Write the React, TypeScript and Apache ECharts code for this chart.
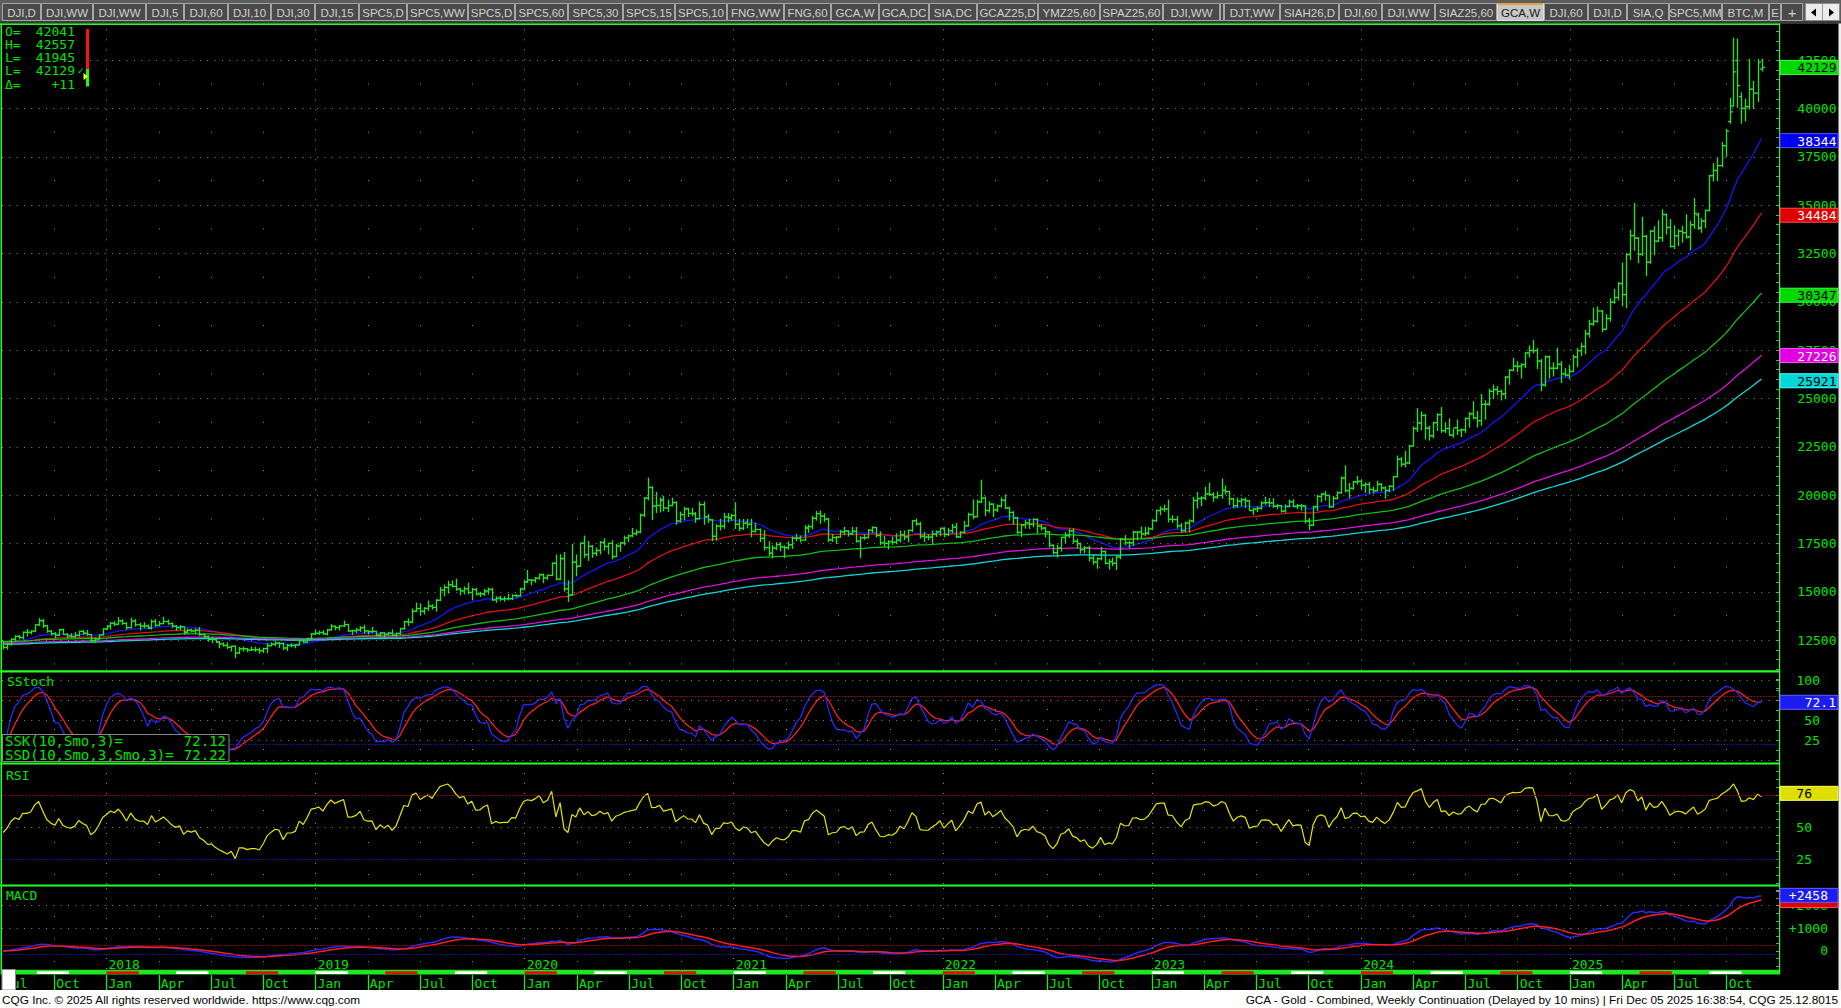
import { useEffect, useRef } from "react";
import * as echarts from "echarts";

// Weekly bars [open, high, low, close] in dollars; the chart shows prices x10.
const bars2017 = [[1242,1245,1205,1213],[1213,1235,1204,1228],[1228,1258,1226,1255],[1255,1274,1246,1270],[1270,1276,1257,1264],[1264,1293,1257,1291],[1291,1306,1272,1291],[1291,1300,1283,1297],[1297,1330,1294,1330],[1330,1362,1326,1351],[1351,1358,1316,1325],[1325,1327,1291,1297],[1297,1301,1277,1284],[1284,1290,1263,1276],[1276,1307,1274,1304],[1304,1308,1280,1280],[1280,1285,1265,1272],[1272,1284,1265,1269],[1269,1290,1266,1275],[1275,1297,1271,1296],[1296,1300,1279,1287],[1287,1301,1275,1280],[1280,1280,1241,1248],[1248,1261,1240,1257],[1257,1279,1255,1278],[1278,1310,1277,1309]];
const bars2018 = [[1309,1326,1305,1322],[1322,1341,1308,1338],[1338,1346,1326,1333],[1333,1367,1331,1350],[1350,1356,1332,1337],[1337,1341,1307,1316],[1316,1365,1313,1349],[1349,1357,1323,1330],[1330,1338,1303,1323],[1323,1341,1315,1324],[1324,1329,1310,1313],[1313,1355,1308,1347],[1347,1357,1321,1327],[1327,1347,1325,1336],[1336,1369,1335,1347],[1347,1355,1333,1336],[1336,1340,1315,1323],[1323,1326,1302,1315],[1315,1326,1305,1320],[1320,1320,1282,1292],[1292,1308,1287,1302],[1302,1307,1293,1298],[1298,1309,1290,1302],[1302,1316,1276,1279],[1279,1282,1262,1270],[1270,1272,1245,1254],[1254,1265,1238,1255],[1255,1262,1238,1241],[1241,1244,1211,1231],[1231,1236,1219,1223],[1223,1237,1207,1214],[1214,1220,1194,1219],[1219,1221,1160,1184],[1184,1213,1182,1206],[1206,1215,1194,1206],[1206,1207,1191,1199],[1199,1215,1197,1201],[1201,1214,1193,1201],[1201,1210,1183,1196],[1196,1209,1187,1207],[1207,1233,1185,1222],[1222,1236,1221,1229],[1229,1245,1222,1235],[1235,1239,1212,1233],[1233,1237,1202,1210],[1210,1228,1196,1223],[1223,1232,1216,1223],[1223,1228,1211,1226],[1226,1250,1226,1248],[1248,1252,1238,1241],[1241,1262,1239,1258],[1258,1285,1256,1283],[1283,1301,1280,1286]];
const bars2019 = [[1286,1298,1280,1290],[1290,1300,1281,1283],[1283,1306,1277,1304],[1304,1331,1302,1322],[1322,1324,1305,1316],[1316,1326,1302,1324],[1324,1349,1321,1331],[1331,1333,1295,1298],[1298,1302,1281,1299],[1299,1311,1290,1303],[1303,1321,1296,1315],[1315,1328,1286,1298],[1298,1300,1282,1295],[1295,1317,1290,1296],[1296,1297,1273,1277],[1277,1290,1268,1288],[1288,1289,1267,1281],[1281,1291,1277,1287],[1287,1304,1273,1276],[1276,1287,1268,1285],[1285,1312,1281,1310],[1310,1348,1306,1346],[1346,1361,1327,1344],[1344,1412,1341,1400],[1400,1442,1398,1414],[1414,1438,1383,1400],[1400,1419,1387,1415],[1415,1453,1404,1427],[1427,1434,1411,1420],[1420,1460,1400,1457],[1457,1523,1455,1509],[1509,1535,1480,1523],[1523,1555,1495,1537],[1537,1557,1526,1529],[1529,1566,1508,1515],[1515,1519,1485,1505],[1505,1526,1490,1516],[1516,1545,1490,1497],[1497,1519,1459,1512],[1512,1519,1484,1489],[1489,1498,1477,1490],[1490,1514,1482,1505],[1505,1520,1489,1513],[1513,1518,1456,1459],[1459,1475,1446,1468],[1468,1478,1455,1463],[1463,1475,1452,1465],[1465,1487,1459,1465],[1465,1485,1460,1481],[1481,1486,1474,1480],[1480,1519,1479,1515],[1515,1557,1510,1552]];
const bars2020 = [[1552,1611,1549,1562],[1562,1563,1537,1560],[1560,1575,1550,1571],[1571,1592,1565,1589],[1589,1592,1548,1573],[1573,1587,1565,1586],[1586,1650,1584,1648],[1648,1691,1563,1566],[1566,1692,1563,1672],[1672,1704,1504,1516],[1516,1558,1451,1484],[1484,1746,1482,1654],[1654,1691,1583,1633],[1633,1753,1633,1752],[1752,1789,1679,1693],[1693,1761,1663,1736],[1736,1740,1679,1700],[1700,1727,1688,1714],[1714,1761,1697,1756],[1756,1775,1717,1735],[1735,1752,1697,1751],[1751,1765,1671,1683],[1683,1746,1682,1737],[1737,1756,1711,1753],[1753,1789,1743,1780],[1780,1795,1761,1790],[1790,1829,1785,1802],[1802,1820,1794,1810],[1810,1903,1806,1897],[1897,1988,1891,1985],[1985,2089,1976,2040],[2040,2044,1874,1944],[1944,2015,1911,1947],[1947,1986,1914,1975],[1975,1994,1920,1934],[1934,1975,1916,1947],[1947,1985,1945,1962],[1962,1966,1851,1867],[1867,1913,1862,1900],[1900,1937,1873,1930],[1930,1933,1890,1906],[1906,1933,1894,1905],[1905,1911,1860,1879],[1879,1965,1876,1952],[1952,1965,1850,1889],[1889,1900,1859,1873],[1873,1875,1765,1788],[1788,1848,1767,1840],[1840,1876,1820,1840],[1840,1906,1829,1888],[1888,1906,1862,1883],[1883,1902,1870,1895]];
const bars2021 = [[1895,1962,1828,1850],[1850,1875,1817,1829],[1829,1875,1823,1856],[1856,1875,1831,1850],[1850,1876,1785,1814],[1814,1855,1809,1823],[1823,1826,1760,1777],[1777,1817,1717,1729],[1729,1760,1687,1700],[1700,1740,1677,1727],[1727,1755,1719,1745],[1745,1755,1713,1733],[1733,1738,1677,1729],[1729,1759,1721,1744],[1744,1785,1725,1777],[1777,1798,1764,1777],[1777,1790,1758,1768],[1768,1843,1767,1831],[1831,1846,1808,1838],[1838,1891,1827,1881],[1881,1916,1871,1905],[1905,1919,1855,1892],[1892,1904,1865,1877],[1877,1880,1761,1769],[1769,1796,1761,1781],[1781,1786,1750,1784],[1784,1818,1783,1811],[1811,1834,1795,1815],[1815,1818,1789,1801],[1801,1834,1795,1814],[1814,1833,1757,1763],[1763,1786,1677,1780],[1780,1795,1771,1781],[1781,1823,1779,1819],[1819,1837,1808,1833],[1833,1834,1784,1792],[1792,1811,1745,1754],[1754,1787,1737,1751],[1751,1765,1722,1760],[1760,1784,1746,1757],[1757,1801,1749,1768],[1768,1815,1758,1796],[1796,1815,1770,1784],[1784,1820,1759,1818],[1818,1869,1813,1868],[1868,1877,1845,1852],[1852,1860,1778,1788],[1788,1808,1761,1784],[1784,1797,1770,1784],[1784,1816,1753,1799],[1799,1815,1787,1811],[1811,1830,1790,1829]];
const bars2022 = [[1829,1832,1785,1797],[1797,1829,1791,1817],[1817,1849,1806,1835],[1835,1854,1781,1785],[1785,1812,1781,1808],[1808,1865,1805,1842],[1842,1907,1840,1900],[1900,1976,1878,1889],[1889,1975,1889,1966],[1966,2078,1962,1985],[1985,1991,1895,1921],[1921,1966,1912,1954],[1954,1956,1890,1924],[1924,1950,1915,1945],[1945,1985,1939,1974],[1974,2002,1931,1934],[1934,1938,1872,1911],[1911,1915,1850,1882],[1882,1886,1800,1808],[1808,1850,1786,1846],[1846,1870,1830,1857],[1857,1876,1828,1850],[1850,1878,1837,1875],[1875,1878,1805,1840],[1840,1848,1820,1830],[1830,1835,1784,1811],[1811,1812,1732,1741],[1741,1744,1696,1703],[1703,1742,1680,1727],[1727,1783,1711,1782],[1782,1807,1754,1791],[1791,1824,1782,1816],[1816,1826,1753,1762],[1762,1773,1727,1750],[1750,1753,1701,1719],[1719,1735,1702,1728],[1728,1736,1660,1675],[1675,1689,1643,1655],[1655,1677,1622,1672],[1672,1730,1666,1709],[1709,1712,1645,1648],[1648,1668,1618,1657],[1657,1675,1636,1648],[1648,1685,1616,1681],[1681,1777,1672,1771],[1771,1792,1745,1754],[1754,1763,1728,1754],[1754,1815,1740,1809],[1809,1811,1769,1810],[1810,1836,1776,1800],[1800,1833,1790,1804],[1804,1834,1797,1826]];
const bars2023 = [[1826,1874,1824,1869],[1869,1923,1864,1921],[1921,1940,1900,1928],[1928,1949,1917,1929],[1929,1975,1862,1876],[1876,1894,1860,1874],[1874,1890,1830,1842],[1842,1854,1810,1817],[1817,1862,1810,1856],[1856,1873,1810,1867],[1867,1989,1860,1973],[1973,2014,1934,1983],[1983,1992,1946,1986],[1986,2041,1978,2007],[2007,2063,1999,2004],[2004,2013,1969,1990],[1990,2017,1984,1999],[1999,2085,1985,2025],[2025,2048,2007,2019],[2019,2021,1952,1981],[1981,1985,1936,1946],[1946,1985,1938,1969],[1969,1984,1945,1977],[1977,1986,1936,1971],[1971,1973,1920,1921],[1921,1933,1900,1929],[1929,1941,1915,1932],[1932,1966,1928,1961],[1961,1990,1953,1962],[1962,1983,1942,1960],[1960,1982,1937,1943],[1943,1952,1930,1946],[1946,1948,1913,1918],[1918,1950,1912,1942],[1942,1975,1940,1966],[1966,1977,1940,1942],[1942,1953,1930,1946],[1946,1953,1923,1945],[1945,1947,1857,1866],[1866,1878,1823,1845],[1845,1944,1843,1941],[1941,2000,1921,1994],[1994,2009,1967,2006],[2006,2019,1976,1999],[1999,2000,1935,1940],[1940,1994,1939,1984],[1984,2018,1980,2013],[2013,2095,2010,2089],[2089,2152,2017,2024],[2024,2061,1987,2036],[2036,2072,2030,2069],[2069,2098,2058,2072]];
const bars2024 = [[2072,2080,2031,2052],[2052,2064,2015,2056],[2056,2067,2010,2030],[2030,2043,2012,2023],[2023,2073,2023,2057],[2057,2060,2022,2038],[2038,2043,1984,2025],[2025,2050,2018,2046],[2046,2096,2025,2096],[2096,2203,2096,2186],[2186,2196,2149,2161],[2161,2226,2146,2167],[2167,2258,2163,2255],[2255,2354,2254,2345],[2345,2448,2330,2374],[2374,2431,2338,2413],[2413,2418,2291,2347],[2347,2357,2285,2308],[2308,2378,2298,2375],[2375,2422,2335,2417],[2417,2454,2325,2334],[2334,2375,2325,2345],[2345,2395,2310,2311],[2311,2343,2300,2349],[2349,2389,2314,2335],[2335,2343,2304,2339],[2339,2400,2325,2397],[2397,2427,2353,2421],[2421,2484,2395,2400],[2400,2433,2353,2386],[2386,2522,2362,2470],[2470,2488,2394,2471],[2471,2549,2465,2538],[2538,2570,2500,2547],[2547,2562,2520,2537],[2537,2544,2493,2524],[2524,2614,2500,2611],[2611,2650,2574,2646],[2646,2708,2645,2668],[2668,2690,2640,2666],[2666,2680,2606,2676],[2676,2737,2660,2736],[2736,2772,2715,2749],[2749,2801,2736,2748],[2748,2760,2655,2694],[2694,2702,2541,2570],[2570,2721,2565,2716],[2716,2720,2605,2657],[2657,2685,2617,2657],[2657,2761,2654,2677],[2677,2691,2583,2628],[2628,2655,2616,2621],[2621,2672,2602,2640]];
const bars2025 = [[2640,2725,2640,2715],[2715,2760,2665,2748],[2748,2786,2722,2770],[2770,2853,2731,2835],[2835,2905,2818,2886],[2886,2968,2878,2900],[2900,2974,2895,2953],[2953,2956,2845,2858],[2858,2934,2857,2914],[2914,3017,2900,2999],[2999,3065,2993,3023],[3023,3100,3010,3095],[3095,3201,2980,3038],[3038,3250,2970,3245],[3245,3371,3220,3343],[3343,3509,3267,3330],[3330,3333,3203,3247],[3247,3438,3240,3339],[3339,3344,3136,3205],[3205,3369,3200,3366],[3366,3389,3245,3314],[3314,3420,3312,3332],[3332,3476,3313,3452],[3452,3455,3351,3385],[3385,3426,3284,3287],[3287,3394,3276,3342],[3342,3374,3292,3365],[3365,3391,3309,3358],[3358,3451,3329,3336],[3336,3416,3269,3399],[3399,3534,3380,3458],[3450,3460,3375,3382],[3382,3430,3360,3418],[3418,3475,3385,3473],[3473,3655,3470,3653],[3653,3715,3625,3680],[3680,3745,3628,3705],[3705,3824,3700,3808],[3808,3893,3753,3883],[3933,4053,3924,3983],[4013,4364,4013,4190],[4248,4359,4007,4119],[4062,4081,3924,4001],[4001,4048,3936,4010],[4010,4255,3997,4100],[4100,4140,4001,4080],[4080,4255,4037,4240],[4204.1,4255.7,4194.5,4212.9]];

const priceScale = 10;
const firstWeekUTC = Date.UTC(2017, 6, 3);
const axisStartMonth = 6;   // Jul 2017, months counted from Jan 2017
const axisEndMonth = 108;   // Jan 2026

const maPeriods = [21, 50, 100, 165, 200];
const maSeeds = [12450, 12400, 12450, 12350, 12300];
const maColors = ["#1414ff", "#e01010", "#10c010", "#e010e0", "#10d8d8"];
const stochLength = 10;
const stochSmooth = 3;
const rsiLength = 14;
const rsiSeedGain = 80;
const rsiSeedLoss = 95;

const priceTickLabels = [12500, 15000, 17500, 20000, 22500, 25000, 27500, 30000, 32500, 35000, 37500, 40000, 42500];
const priceBoxes = [
  { v: 42129, t: "42129", bg: "#00d800", fg: "#000000", bd: "#40ff40" },
  { v: 38344, t: "38344", bg: "#0000f0", fg: "#ffffff", bd: "#5050ff" },
  { v: 34484, t: "34484", bg: "#e00000", fg: "#ffffff", bd: "#ff5050" },
  { v: 30347, t: "30347", bg: "#00d800", fg: "#000000", bd: "#40ff40" },
  { v: 27226, t: "27226", bg: "#e000e0", fg: "#ffffff", bd: "#ff50ff" },
  { v: 25921, t: "25921", bg: "#00d8d8", fg: "#000000", bd: "#50ffff" },
];
const quoteRows = [["O=", "42041"], ["H=", "42557"], ["L=", "41945"], ["L=", "42129"], ["\u0394=", "+11"]];
const legendRows = [["SSK(10,Smo,3)=", "72.12"], ["SSD(10,Smo,3,Smo,3)=", "72.22"]];
const tabLabels = ["DJI,D","DJI,WW","DJI,WW","DJI,5","DJI,60","DJI,10","DJI,30","DJI,15","SPC5,D","SPC5,WW","SPC5,D","SPC5,60","SPC5,30","SPC5,15","SPC5,10","FNG,WW","FNG,60","GCA,W","GCA,DC","SIA,DC","GCAZ25,D","YMZ25,60","SPAZ25,60","DJI,WW","","DJT,WW","SIAH26,D","DJI,60","DJI,WW","SIAZ25,60","GCA,W","DJI,60","DJI,D","SIA,Q","SPC5,MM","BTC,M","E","+"];
const tabEdges = [2,41,93,146,184,228,271,315,359,407,468,515,568,623,675,727,784,831,879,929,977,1038,1100,1163,1220,1224,1280,1339,1382,1435,1497,1544,1588,1627,1669,1722,1769,1781,1803];
const activeTab = 30;
const footerLeft = "CQG Inc. \u00a9 2025 All rights reserved worldwide. https://www.cqg.com";
const footerRight = "GCA - Gold - Combined, Weekly Continuation (Delayed by 10 mins) | Fri Dec 05 2025 16:38:54, CQG 25.12.8015";

const MONO = '"DejaVu Sans Mono", "Liberation Mono", monospace';
const UI = '"Liberation Sans", Arial, sans-serif';
const TXT = "#00e400";
const DOT = "#8c8c8c";
const SEP = "#22ff22";

const allBars = [...bars2017, ...bars2018, ...bars2019, ...bars2020, ...bars2021, ...bars2022, ...bars2023, ...bars2024, ...bars2025];

function monthPos(t: number) {
  const d = new Date(t);
  const y = d.getUTCFullYear(), m = d.getUTCMonth(), day = d.getUTCDate();
  const dim = new Date(Date.UTC(y, m + 1, 0)).getUTCDate();
  return (y - 2017) * 12 + m + (day - 1) / dim;
}
const xs = allBars.map((_, i) => monthPos(firstWeekUTC + i * 7 * 86400000));
const O = allBars.map((b) => b[0] * priceScale);
const H = allBars.map((b) => b[1] * priceScale);
const L = allBars.map((b) => b[2] * priceScale);
const C = allBars.map((b) => b[3] * priceScale);

function emaSeries(src: number[], period: number, seed: number) {
  const a = 2 / (period + 1);
  let v = seed;
  return src.map((x) => (v += a * (x - v)));
}
function smoSeries(src: number[], n: number) {
  let v = src[0];
  return src.map((x) => (v += (x - v) / n));
}
function rsiSeries(n: number, g0: number, l0: number) {
  let ag = g0, al = l0;
  return C.map((c, i) => {
    if (i > 0) {
      const d = c - C[i - 1];
      ag = (ag * (n - 1) + Math.max(d, 0)) / n;
      al = (al * (n - 1) + Math.max(-d, 0)) / n;
    }
    return 100 - 100 / (1 + ag / al);
  });
}
const maVals = maPeriods.map((p, k) => emaSeries(C, p, maSeeds[k]));
const rawK = C.map((c, i) => {
  let hh = -Infinity, ll = Infinity;
  for (let j = Math.max(0, i - stochLength + 1); j <= i; j++) { hh = Math.max(hh, H[j]); ll = Math.min(ll, L[j]); }
  return hh > ll ? (100 * (c - ll)) / (hh - ll) : 50;
});
const ssk = smoSeries(rawK, stochSmooth);
const ssd = smoSeries(ssk, stochSmooth);
const rsi = rsiSeries(rsiLength, rsiSeedGain, rsiSeedLoss);
const e12 = emaSeries(C, 12, C[0]);
const e26 = emaSeries(C, 26, C[0]);
const macd = e12.map((v, i) => v - e26[i]);
const signal = emaSeries(macd, 9, 0);

const yearStarts: number[] = [];
const quarterMarks: number[] = [];
for (let m = axisStartMonth + 3; m < axisEndMonth; m += 3) (m % 12 === 0 ? yearStarts : quarterMarks).push(m);
const stripStarts: number[] = [];
for (let m = 8; m <= 104; m += 4) stripStarts.push(m);

const pts = (vals: number[]) => vals.map((v, i) => [xs[i], v]);

function hLine(v: number, color: string, dash: any) {
  return { yAxis: v, lineStyle: { color, type: dash, width: 1 } };
}
function vLine(m: number, y0: number, y1: number, dash: any) {
  const ls = { color: DOT, type: dash, width: 1 };
  return [{ coord: [m, y0], lineStyle: ls }, { coord: [m, y1], lineStyle: ls }];
}
function marks(data: any[]) {
  return { silent: true, symbol: ["none", "none"], label: { show: false }, emphasis: { disabled: true }, animation: false, data };
}
function gridHolder(ax: number, y: number, data: any[]) {
  return { type: "line", xAxisIndex: ax, yAxisIndex: ax, data: [[axisStartMonth, y]], symbol: "none", lineStyle: { width: 0 }, z: 1, silent: true, markLine: marks(data) };
}

function buildOption() {
  const baseX = { type: "value", min: axisStartMonth, max: axisEndMonth, interval: 3, splitLine: { show: false } };
  const quarterName = (v: number) => ["Jan", "Apr", "Jul", "Oct"][Math.round((((v % 12) + 12) % 12) / 3) % 4];
  const yLabel = (margin: number, extra: any = {}) => ({ color: TXT, fontFamily: MONO, fontSize: 13, margin, align: "right", formatter: (v: number) => String(v), ...extra });
  const tick = { show: true, inside: true, length: 3, lineStyle: { color: DOT } };
  const minor = (n: number) => ({ show: true, splitNumber: n, length: 3, lineStyle: { color: DOT } });
  const hide75 = (v: number) => (v === 75 ? "" : String(v));

  const mainMarks = [
    ...priceTickLabels.map((v) => hLine(v, DOT, [1, 6.33])),
    ...yearStarts.map((m) => vLine(m, 10948, 44310, [1, 9])),
    ...quarterMarks.map((m) => vLine(m, 11250, 43750, [1, 47.33])),
  ];
  const stochMarks = [
    ...[0, 25, 50, 75, 100].map((v) => hLine(v, DOT, [1, 6.33])),
    hLine(80, "#b40000", [1.5, 1.5]), hLine(20, "#1818c8", [1.5, 1.5]),
    ...yearStarts.map((m) => vLine(m, -3.7, 110, [1, 9])),
    ...quarterMarks.map((m) => vLine(m, 12.5, 87.5, [1, 19])),
  ];
  const rsiMarks = [
    hLine(50, DOT, [1, 6.33]), hLine(75, "#b40000", [1.5, 1.5]), hLine(25, "#1818c8", [1.5, 1.5]),
    ...yearStarts.map((m) => vLine(m, 5.5, 98.4, [1, 9])),
    ...quarterMarks.map((m) => vLine(m, 12.5, 87.5, [1, 31])),
  ];
  const macdMarks = [
    hLine(2000, DOT, [1, 6.33]), hLine(1000, DOT, [1, 6.33]),
    hLine(260, "#b40000", [1.5, 1.5]), hLine(-150, "#1818c8", [1.5, 1.5]),
    ...yearStarts.map((m) => vLine(m, -800, 2870, [1, 9])),
    ...quarterMarks.map((m) => vLine(m, -500, 2500, [1, 21.6])),
  ];

  return {
    animation: false,
    backgroundColor: "#000000",
    grid: [
      { left: 2, top: 11.9, width: 1777, height: 676.7 },
      { left: 2, top: 680, width: 1777, height: 80 },
      { left: 2, top: 763, width: 1777, height: 128 },
      { left: 2, top: 883.1, width: 1777, height: 90.4 },
      { left: 2, top: 970, width: 1777, height: 5 },
    ],
    xAxis: [
      { ...baseX, gridIndex: 0, show: false },
      { ...baseX, gridIndex: 1, show: false },
      { ...baseX, gridIndex: 2, show: false },
      {
        ...baseX, gridIndex: 3, show: true, axisLine: { show: false }, axisTick: { show: false },
        axisLabel: { inside: true, formatter: (v: number) => (v % 12 === 0 ? String(2017 + v / 12) : ""), color: TXT, fontFamily: MONO, fontSize: 13, align: "left", verticalAlign: "middle", margin: 9.5, padding: [0, 0, 0, 2], showMinLabel: false, showMaxLabel: false },
      },
      {
        ...baseX, gridIndex: 4, show: true, axisLine: { show: false },
        axisTick: { show: true, inside: false, length: 15, lineStyle: { color: "#1ee81e", width: 1.3 } },
        axisLabel: { formatter: quarterName, color: TXT, fontFamily: MONO, fontSize: 13, align: "left", verticalAlign: "top", margin: 1.5, padding: [0, 0, 0, 2], showMinLabel: true, showMaxLabel: false },
      },
    ],
    yAxis: [
      { gridIndex: 0, type: "value", position: "right", min: 10000, max: 45000, interval: 2500, axisLine: { show: false }, splitLine: { show: false }, axisTick: tick, minorTick: minor(5), axisLabel: yLabel(57.5, { showMinLabel: false, showMaxLabel: false }) },
      { gridIndex: 1, type: "value", position: "right", min: 0, max: 100, interval: 25, axisLine: { show: false }, splitLine: { show: false }, axisTick: tick, minorTick: minor(2), axisLabel: yLabel(41, { showMinLabel: false, formatter: hide75 }) },
      { gridIndex: 2, type: "value", position: "right", min: 0, max: 100, interval: 25, axisLine: { show: false }, splitLine: { show: false }, axisTick: tick, minorTick: minor(4), axisLabel: yLabel(33, { showMinLabel: false, showMaxLabel: false, formatter: hide75 }) },
      { gridIndex: 3, type: "value", position: "right", min: -1000, max: 3000, interval: 1000, axisLine: { show: false }, splitLine: { show: false }, axisTick: tick, minorTick: minor(3), axisLabel: yLabel(49, { showMinLabel: false, showMaxLabel: false, formatter: (v: number) => (v > 0 ? "+" + v : String(v)) }) },
      { gridIndex: 4, type: "value", min: 0, max: 1, show: false },
    ],
    series: [
      gridHolder(0, 20000, mainMarks),
      ...maPeriods.map((p, k) => ({
        type: "line", name: "MA" + p, xAxisIndex: 0, yAxisIndex: 0, data: pts(maVals[k]), symbol: "none", showSymbol: false, silent: true, z: 2,
        lineStyle: { color: maColors[k], width: 1.3 },
      })),
      {
        type: "custom", name: "GCA", xAxisIndex: 0, yAxisIndex: 0, z: 3, silent: true,
        data: allBars.map((_, i) => [xs[i], O[i], H[i], L[i], C[i]]),
        encode: { x: 0, y: [1, 2, 3, 4] },
        renderItem: (_p: any, api: any) => {
          const x = api.value(0);
          const ph = api.coord([x, api.value(2)]);
          const pl = api.coord([x, api.value(3)]);
          const yo = api.coord([x, api.value(1)])[1];
          const yc = api.coord([x, api.value(4)])[1];
          const px = Math.round(ph[0]) + 0.5;
          const st = { stroke: "#22e622", lineWidth: 1.3 };
          return {
            type: "group",
            children: [
              { type: "line", shape: { x1: px, y1: ph[1] - 0.5, x2: px, y2: pl[1] + 0.5 }, style: st },
              { type: "line", shape: { x1: px - 2.6, y1: yo, x2: px, y2: yo }, style: st },
              { type: "line", shape: { x1: px, y1: yc, x2: px + 2.6, y2: yc }, style: st },
            ],
          };
        },
      },
      gridHolder(1, 50, stochMarks),
      { type: "line", name: "SSK", xAxisIndex: 1, yAxisIndex: 1, data: pts(ssk), symbol: "none", silent: true, z: 3, lineStyle: { color: "#2828ff", width: 1.3 } },
      { type: "line", name: "SSD", xAxisIndex: 1, yAxisIndex: 1, data: pts(ssd), symbol: "none", silent: true, z: 2, lineStyle: { color: "#ff1e1e", width: 1.3 } },
      gridHolder(2, 50, rsiMarks),
      { type: "line", name: "RSI", xAxisIndex: 2, yAxisIndex: 2, data: pts(rsi), symbol: "none", silent: true, z: 2, lineStyle: { color: "#e6e600", width: 1.2 } },
      gridHolder(3, 0, macdMarks),
      { type: "line", name: "MACD", xAxisIndex: 3, yAxisIndex: 3, data: pts(macd), symbol: "none", silent: true, z: 2, lineStyle: { color: "#2828ff", width: 1.5 } },
      { type: "line", name: "Signal", xAxisIndex: 3, yAxisIndex: 3, data: pts(signal), symbol: "none", silent: true, z: 3, lineStyle: { color: "#ff1e1e", width: 1.5 } },
      {
        type: "custom", name: "strip", xAxisIndex: 4, yAxisIndex: 4, z: 3, silent: true,
        data: stripStarts.map((m) => [m, m + 1.85, m % 8 === 0 ? 0 : 1]),
        renderItem: (_p: any, api: any) => {
          const a = api.coord([api.value(0), 0.75]);
          const b = api.coord([api.value(1), 0.2]);
          return { type: "rect", shape: { x: a[0], y: a[1], width: b[0] - a[0], height: b[1] - a[1] }, style: { fill: api.value(2) === 0 ? "#ffffff" : "#e01010" } };
        },
      },
    ],
  };
}

function buildGraphics(chart: any) {
  const els: any[] = [];
  const rect = (x: number, y: number, w: number, h: number, fill: string, z = 100, stroke: string | null = null) =>
    els.push({ type: "rect", silent: true, z, shape: { x, y, width: w, height: h }, style: { fill, stroke, lineWidth: stroke ? 1 : 0 } });
  const text = (x: number, y: number, t: string, fill: string, family: string, size: number, align = "left", z = 101) =>
    els.push({ type: "text", silent: true, z, x, y, style: { text: t, fill, fontFamily: family, fontSize: size, textAlign: align, align, textVerticalAlign: "middle", verticalAlign: "middle" } });

  rect(0, 0, 1841, 23.5, "#5e5e5e");
  rect(0, 21, 1841, 2.5, "#3a3a3a");
  for (let i = 0; i < tabLabels.length; i++) {
    const x0 = tabEdges[i], x1 = tabEdges[i + 1] - 1;
    const act = i === activeTab;
    rect(x0 + 0.5, 3.5, x1 - x0, 17, act ? "#c6c6c6" : "#4a4a4a", 101, act ? "#e0e0e0" : "#a6a6a6");
    if (act) rect(x0 + 1, 3, x1 - x0 - 1, 2, "#f0a030", 102);
    if (tabLabels[i]) text((x0 + x1) / 2 + 0.5, 12.5, tabLabels[i], act ? "#1a1a1a" : "#d0d0d0", UI, tabLabels[i] === "+" ? 15 : 11.5, "center", 102);
  }
  rect(1805.5, 3.5, 34, 17, "#ececec", 101, "#8a8a8a");
  els.push({ type: "line", silent: true, z: 102, shape: { x1: 1822.5, y1: 4, x2: 1822.5, y2: 20 }, style: { stroke: "#9a9a9a", lineWidth: 1 } });
  els.push({ type: "polygon", silent: true, z: 102, shape: { points: [[1816, 8.5], [1816, 16.5], [1811, 12.5]] }, style: { fill: "#000" } });
  els.push({ type: "polygon", silent: true, z: 102, shape: { points: [[1829, 8.5], [1829, 16.5], [1834, 12.5]] }, style: { fill: "#000" } });

  rect(0, 23.5, 1780, 1.6, SEP);
  rect(0, 670.2, 1780, 2.2, SEP);
  rect(0, 762.4, 1780, 2.2, SEP);
  rect(0, 884.4, 1780, 2.2, SEP);
  rect(0.5, 23.5, 1.5, 951, SEP);
  rect(1779, 23.5, 1.2, 951, SEP);
  rect(2, 969.8, 1777, 4.6, "#1ee81e", 1);
  rect(1838.5, 23.5, 2.5, 967, "#efefef");
  rect(2, 969.5, 13.5, 20.5, "#ffffff", 100, "#8a8a8a");

  rect(0, 990, 1841, 18, "#ffffff");
  text(2, 999.5, footerLeft, "#000000", UI, 11.8);
  text(1838, 999.5, footerRight, "#000000", UI, 11.8, "right");

  rect(2, 25.2, 88, 64, "#000000", 50);
  quoteRows.forEach((r, i) => {
    const y = 31 + i * 13.3;
    text(5, y, r[0], TXT, MONO, 13, "left", 51);
    text(75, y, r[1], TXT, MONO, 13, "right", 51);
  });
  text(77, 71, "\u2713", TXT, '"DejaVu Sans"', 9, "left", 51);
  rect(86, 29, 3, 40, "#ff1010", 51);
  rect(86, 69, 3, 17.5, "#10ff10", 51);
  els.push({ type: "polygon", silent: true, z: 52, shape: { points: [[83.5, 73], [88, 76.5], [83.5, 80]] }, style: { fill: "#ffff00" } });

  text(7, 681.5, "SStoch", TXT, MONO, 13, "left", 60);
  text(6, 775.5, "RSI", TXT, MONO, 13, "left", 60);
  text(6, 895, "MACD", TXT, MONO, 13, "left", 60);
  rect(2.5, 734.5, 226.5, 27, "#000000", 60, "#8a8a8a");
  legendRows.forEach((r, i) => {
    const y = 741 + i * 13.5;
    text(5, y, r[0], TXT, MONO, 14, "left", 61);
    text(226, y, r[1], TXT, MONO, 14, "right", 61);
  });

  const boxAt = (grid: number, v: number, bg: string, bd: string, z: number) => {
    const y = chart.convertToPixel({ gridIndex: grid }, [107, v])[1];
    rect(1780, y - 7, 58, 14, bg, z, bd);
    return y;
  };
  const box = (grid: number, v: number, t: string, bg: string, fg: string, bd: string, right: number, z = 110) => {
    const y = boxAt(grid, v, bg, bd, z);
    text(right, y + 0.5, t, fg, MONO, 13, "right", z + 1);
  };
  priceBoxes.forEach((b) => box(0, b.v, b.t, b.bg, b.fg, b.bd, 1836.5));
  box(1, 72.12, "72.1", "#1c1cf0", "#ffffff", "#6060ff", 1836);
  box(2, 76.3, "76", "#dede00", "#000000", "#ffff60", 1812);
  boxAt(3, 2230, "#e00000", "#ff5050", 110);
  box(3, 2458, "+2458", "#1c1cf0", "#ffffff", "#6060ff", 1828, 112);
  return els;
}

export default function App() {
  const ref = useRef<HTMLDivElement>(null);
  useEffect(() => {
    document.body.style.margin = "0";
    const chart = echarts.init(ref.current as HTMLDivElement, null, { renderer: "svg" });
    chart.setOption(buildOption() as any);
    chart.setOption({ graphic: { elements: buildGraphics(chart) } } as any);
    return () => chart.dispose();
  }, []);
  return <div ref={ref} style={{ position: "absolute", left: 0, top: 0, width: 1841, height: 1008 }} />;
}
